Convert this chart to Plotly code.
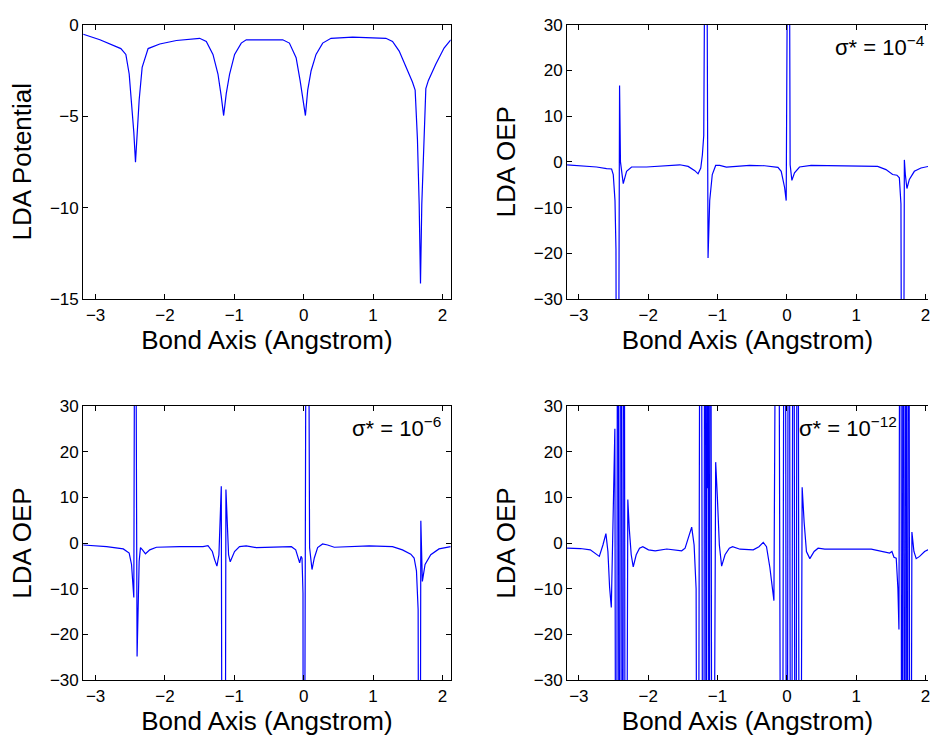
import plotly.graph_objects as go

# ---------------------------------------------------------------------------
# Potentials sampled along the bond axis (Angstrom).
# Off-scale excursions of the OEP curves are stored as +/-150.
# ---------------------------------------------------------------------------

# LDA potential
x_lda = [-3.178, -2.938, -2.636, -2.564, -2.516, -2.482, -2.449, -2.425, -2.401,
         -2.372, -2.329, -2.243, -2.075, -1.835, -1.500, -1.404, -1.308, -1.236,
         -1.188, -1.154, -1.116, -1.068, -0.996, -0.900, -0.828, -0.302, -0.206,
         -0.109, -0.052, 0.025, 0.058, 0.107, 0.178, 0.274, 0.394, 0.706, 1.185,
         1.281, 1.377, 1.473, 1.568, 1.607, 1.640, 1.665, 1.684, 1.703, 1.732,
         1.761, 1.798, 1.904, 2.024, 2.120]
v_lda = [-0.53, -0.83, -1.31, -1.63, -2.70, -4.12, -5.89, -7.52, -5.89,
         -4.12, -2.34, -1.31, -1.06, -0.87, -0.75, -0.92, -1.63, -2.70,
         -3.94, -4.97, -3.76, -2.70, -1.63, -1.01, -0.83, -0.83, -1.01,
         -1.81, -3.05, -4.97, -3.58, -2.52, -1.63, -1.01, -0.75, -0.69, -0.75,
         -0.92, -1.45, -2.25, -3.14, -3.58, -6.25, -9.80, -14.15, -9.80, -6.25,
         -3.50, -3.05, -2.17, -1.28, -0.83]

# LDA OEP, sigma* = 1e-4
x_s4 = [-3.176, -2.744, -2.600, -2.528, -2.504, -2.479, -2.465, -2.446, -2.413,
        -2.400, -2.360, -2.312, -2.240, -2.024, -1.544, -1.424, -1.328, -1.281,
        -1.242, -1.219, -1.199, -1.165, -1.137, -1.113, -1.076, -1.027, -0.968,
        -0.873, -0.537, -0.321, -0.129, -0.082, -0.033, -0.010, 0.026, 0.047,
        0.072, 0.110, 0.182, 0.349, 1.309, 1.429, 1.525, 1.587, 1.622, 1.645,
        1.669, 1.694, 1.708, 1.731, 1.766, 1.838, 1.933, 2.029, 2.120]
v_s4 = [-0.64, -1.13, -1.49, -1.56, -2.77, -8.46, -19.1, -150, 16.7,
        0.0, -4.75, -2.07, -1.13, -1.13, -0.64, -1.00, -1.92, -2.62,
        -1.34, 1.49, 5.76, 100, -21.0, -8.46, -2.77, -0.79, -0.79,
        -1.13, -0.79, -0.85, -1.20, -2.07, -5.60, -8.46, 100, -0.64,
        -4.05, -2.41, -1.13, -0.79, -1.00, -1.70, -2.77, -2.92, -3.50, -9.20,
        -150, 0.43, -2.77, -5.82, -3.84, -2.07, -1.34, -1.00, -0.75]

# LDA OEP, sigma* = 1e-6
x_s6 = [-3.178, -2.841, -2.601, -2.516, -2.482, -2.459, -2.449, -2.430, -2.402,
        -2.372, -2.353, -2.324, -2.281, -2.219, -2.123, -1.788, -1.452, -1.380,
        -1.317, -1.284, -1.251, -1.222, -1.202, -1.188, -1.166, -1.142, -1.121,
        -1.101, -1.083, -1.059, -0.997, -0.925, -0.829, -0.685, -0.493, -0.177,
        -0.115, -0.072, -0.058, -0.038, -0.024, -0.010, -0.003, 0.050, 0.085,
        0.120, 0.153, 0.201, 0.273, 0.345, 0.441, 0.944, 1.280, 1.424, 1.544,
        1.592, 1.626, 1.650, 1.670, 1.689, 1.697, 1.711, 1.750, 1.832, 1.951,
        2.120]
v_s6 = [-0.43, -0.79, -1.28, -2.20, -4.69, -11.09, -11.9, 100, -24.8,
        -3.98, -1.00, -1.49, -2.35, -1.49, -0.92, -0.79, -0.79, -0.57,
        -1.85, -3.62, -5.05, -2.56, 6.68, 12.4, -150, -150, 11.7,
        3.13, -2.56, -4.10, -1.85, -0.79, -0.60, -1.00, -0.92, -0.79,
        -1.49, -3.62, -4.33, -2.92, -3.30, -11.0, -150, 150, -1.00,
        -5.80, -3.27, -1.00, -0.21, -0.43, -0.92, -0.64, -0.79, -1.49, -2.42,
        -3.27, -6.10, -14.6, -150, 4.90, -2.00, -8.40, -4.70, -2.56, -1.28,
        -0.79]

# LDA OEP, sigma* = 1e-12
x_s12 = [-3.171, -2.978, -2.835, -2.763, -2.705, -2.653, -2.610, -2.581, -2.557,
         -2.532, -2.514, -2.495, -2.481, -2.460, -2.437, -2.417, -2.394, -2.370,
         -2.351, -2.327, -2.294, -2.273, -2.245, -2.216, -2.173, -2.125, -2.078,
         -1.996, -1.899, -1.732, -1.517, -1.468, -1.420, -1.373, -1.338, -1.309,
         -1.286, -1.243, -1.204, -1.180, -1.161, -1.150, -1.143, -1.136, -1.123,
         -1.104, -1.076, -1.027, -1.003, -0.974, -0.941, -0.892, -0.830, -0.783,
         -0.676, -0.485, -0.403, -0.341, -0.294, -0.245, -0.187, -0.132, -0.075,
         -0.029, 0.000, 0.026, 0.062, 0.095, 0.124, 0.155, 0.184, 0.220, 0.249,
         0.282, 0.331, 0.393, 0.450, 0.547, 1.217, 1.361, 1.482, 1.515, 1.544,
         1.577, 1.601, 1.616, 1.640, 1.659, 1.678, 1.698, 1.717, 1.735, 1.755,
         1.778, 1.803, 1.832, 1.865, 1.914, 1.986, 2.033, 2.120]
v_s12 = [-1.13, -1.20, -1.49, -2.20, -2.92, -0.43, 2.07, -1.85, -9.66,
         -14.1, 3.13, 17.3, 25.0, -150, 150, -150, 150, -150,
         150, -150, 9.53, 3.13, -2.56, -5.20, -2.56, -1.13, -0.79,
         -1.49, -1.70, -1.30, -1.70, -1.13, 1.00, 3.48, -0.43, -10.0,
         -150, 150, -150, 150, -150, 150, 12.0, 150, -150,
         150, -150, 17.7, 10.2, -0.43, -5.05, -2.56, -1.13, -0.79,
         -1.35, -1.49, -0.79, 0.15, -0.79, -5.40, -12.6, 150, -150,
         150, -150, 150, -150, 150, -150, 150, -150, 12.2, 4.50,
         -1.85, -3.41, -1.85, -1.13, -1.35, -1.35, -1.85, -2.20, -1.85, -3.10,
         -3.30, -10.0, -18.9, 150, -150, 150, -150, 150, -150, 150,
         -150, 2.40, -1.85, -3.41, -2.92, -1.85, -1.50, -1.20]

# Axis labels and ticks
x_title = "Bond Axis (Angstrom)"
y_titles = ["LDA Potential", "LDA OEP", "LDA OEP", "LDA OEP"]
sigma_exps = [None, "\u22124", "\u22126", "\u221212"]
x_ticks = [-3, -2, -1, 0, 1, 2]
y_ticks_lda = [-15, -10, -5, 0]
y_ticks_oep = [-30, -20, -10, 0, 10, 20, 30]

# ---------------------------------------------------------------------------
# Page layout (pixels of a 930 x 746 page)
# ---------------------------------------------------------------------------
W, H = 930, 746
FONT = "Liberation Sans, Arial, Helvetica, sans-serif"
BLUE = "#0000ff"


def fx(px):
    return px / W


def fy(py):
    return 1 - py / H


cols = [(83.3, 451.7), (568.3, 930.0)]      # plot-area left/right
rows = [(16.0, 297.7), (407.3, 688.7)]      # plot-area top/bottom
x_ranges = [[-3.18, 2.12], [-3.17, 2.035]]

series = [(x_lda, v_lda), (x_s4, v_s4), (x_s6, v_s6), (x_s12, v_s12)]

fig = go.Figure()
layout = dict(
    width=W, height=H,
    margin=dict(l=0, r=0, t=0, b=0),
    paper_bgcolor="white", plot_bgcolor="white",
    showlegend=False,
    font=dict(family=FONT, color="black"),
)
annotations = []

for i, (xs, ys) in enumerate(series):
    r, c = divmod(i, 2)
    n = "" if i == 0 else str(i + 1)
    fig.add_trace(go.Scatter(x=xs, y=ys, mode="lines",
                             line=dict(color=BLUE, width=1.2),
                             xaxis="x" + n, yaxis="y" + n,
                             hoverinfo="skip"))
    common = dict(showline=True, linecolor="black", linewidth=1,
                  ticks="inside", ticklen=5, tickwidth=1, tickcolor="black",
                  showgrid=False, zeroline=False,
                  tickfont=dict(family=FONT, size=17, color="black"))
    layout["xaxis" + n] = dict(
        common, domain=[fx(cols[c][0]), fx(cols[c][1])],
        range=x_ranges[c], tickvals=x_ticks, mirror="allticks",
        anchor="y" + n, ticklabeloverflow="allow",
        title=dict(text=x_title, standoff=6,
                   font=dict(family=FONT, size=26, color="black")))
    layout["yaxis" + n] = dict(
        common, domain=[fy(rows[r][1]), fy(rows[r][0])],
        range=[-15, 0] if i == 0 else [-30, 30],
        tickvals=y_ticks_lda if i == 0 else y_ticks_oep,
        mirror="allticks" if c == 0 else False,
        anchor="x" + n)

    # y-axis title
    yc = (rows[r][0] + rows[r][1]) / 2
    annotations.append(dict(
        text=y_titles[i], xref="paper", yref="paper",
        x=fx(cols[c][0] - 61.6), y=fy(yc), xanchor="center", yanchor="middle",
        textangle=-90, showarrow=False,
        font=dict(family=FONT, size=26, color="black")))
    # sigma* label
    if sigma_exps[i] is not None:
        right = {1: 929, 2: 444, 3: 901}[i]
        annotations.append(dict(
            text="\u03c3* = 10<sup>" + sigma_exps[i] + "</sup>",
            xref="paper", yref="paper",
            x=fx(right), y=fy(rows[r][0] + 22), xanchor="right", yanchor="middle",
            showarrow=False, font=dict(family=FONT, size=22, color="black")))

layout["annotations"] = annotations
fig.update_layout(**layout)
fig.write_html("out.html")
